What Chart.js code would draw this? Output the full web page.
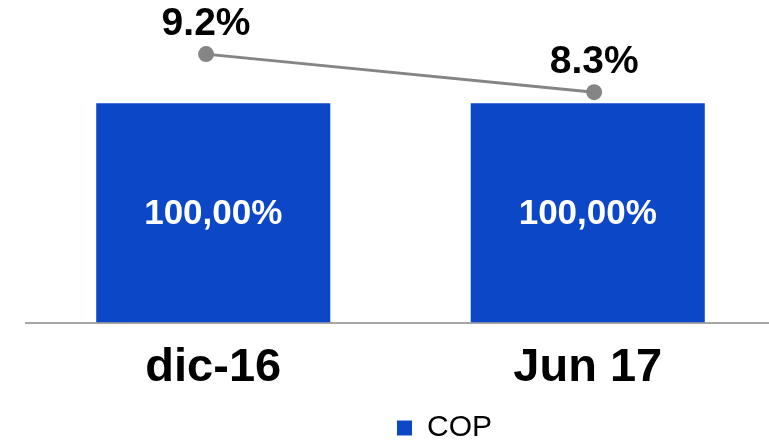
<!DOCTYPE html>
<html>
<head>
<meta charset="utf-8">
<script src="https://cdn.jsdelivr.net/npm/chart.js@4.4.1/dist/chart.umd.min.js"></script>
<style>
  html, body { margin: 0; padding: 0; background: #fff; }
</style>
</head>
<body>
<canvas id="chart" width="769" height="440"></canvas>
<script>
const categories = ["dic-16", "Jun 17"];
const copShare = [100, 100];
const ratios = [9.2, 8.3];

const FONT = "'Liberation Sans', Arial, sans-serif";

// draws the value labels on bars and points
const valueLabels = {
  id: "valueLabels",
  afterDatasetsDraw(chart) {
    const ctx = chart.ctx;
    ctx.save();
    ctx.textAlign = "center";

    chart.getDatasetMeta(0).data.forEach((bar, i) => {
      ctx.fillStyle = "#ffffff";
      ctx.font = "bold 35px " + FONT;
      ctx.textBaseline = "middle";
      const y = (bar.y + bar.base) / 2;
      ctx.fillText(copShare[i].toFixed(2).replace(".", ",") + "%", bar.x, y + 1);
    });

    chart.getDatasetMeta(1).data.forEach((pt, i) => {
      ctx.fillStyle = "#000000";
      ctx.font = "bold 39px " + FONT;
      ctx.textBaseline = "alphabetic";
      ctx.fillText(ratios[i].toFixed(1) + "%", pt.x, pt.y - 19);
    });
    ctx.restore();
  },
};

// original plot runs a few px past the right edge, legend sits right of centre
const layoutTweaks = {
  id: "layoutTweaks",
  afterLayout(chart) {
    ["x", "x2"].forEach((id) => {
      const s = chart.scales[id];
      s.right += 6;
      s.width += 6;
      s.configure();
    });
    chart.legend.left += 47;
    chart.legend.right += 47;
  },
};

new Chart(document.getElementById("chart"), {
  type: "bar",
  data: {
    labels: categories,
    datasets: [
      {
        type: "bar",
        label: "COP",
        data: copShare,
        backgroundColor: "#0c47c8",
        grouped: false,
        barPercentage: 0.625,
        categoryPercentage: 1,
        yAxisID: "y",
        xAxisID: "x",
        order: 2,
      },
      {
        type: "line",
        label: "ratio",
        data: ratios.map((v, i) => ({ x: i, y: v })),
        borderColor: "#858585",
        backgroundColor: "#858585",
        borderWidth: 3,
        pointRadius: 8,
        pointBorderWidth: 0,
        pointBackgroundColor: "#858585",
        yAxisID: "y2",
        xAxisID: "x2",
        order: 1,
      },
    ],
  },
  options: {
    responsive: false,
    animation: false,
    layout: {
      autoPadding: false,
      padding: { left: 26, right: 0, top: 0, bottom: -13 },
    },
    scales: {
      x: {
        grid: { display: false },
        border: { display: true, color: "#a6a6a6", width: 2 },
        ticks: {
          color: "#000",
          padding: 9,
          font: { family: FONT, size: 47, weight: "bold" },
        },
        afterFit: (scale) => {
          scale.height += 6;
        },
      },
      x2: {
        type: "linear",
        display: false,
        offset: false,
        min: -0.464,
        max: 1.466,
      },
      y: {
        display: false,
        min: 0,
        max: 147,
      },
      y2: {
        display: false,
        min: 2.85,
        max: 10.48,
      },
    },
    plugins: {
      tooltip: { enabled: false },
      legend: {
        position: "bottom",
        labels: {
          color: "#000",
          boxWidth: 15,
          boxHeight: 15,
          padding: 2,
          font: { family: FONT, size: 30 },
          filter: (item) => item.datasetIndex === 0,
        },
      },
    },
  },
  plugins: [valueLabels, layoutTweaks],
});
</script>
</body>
</html>
